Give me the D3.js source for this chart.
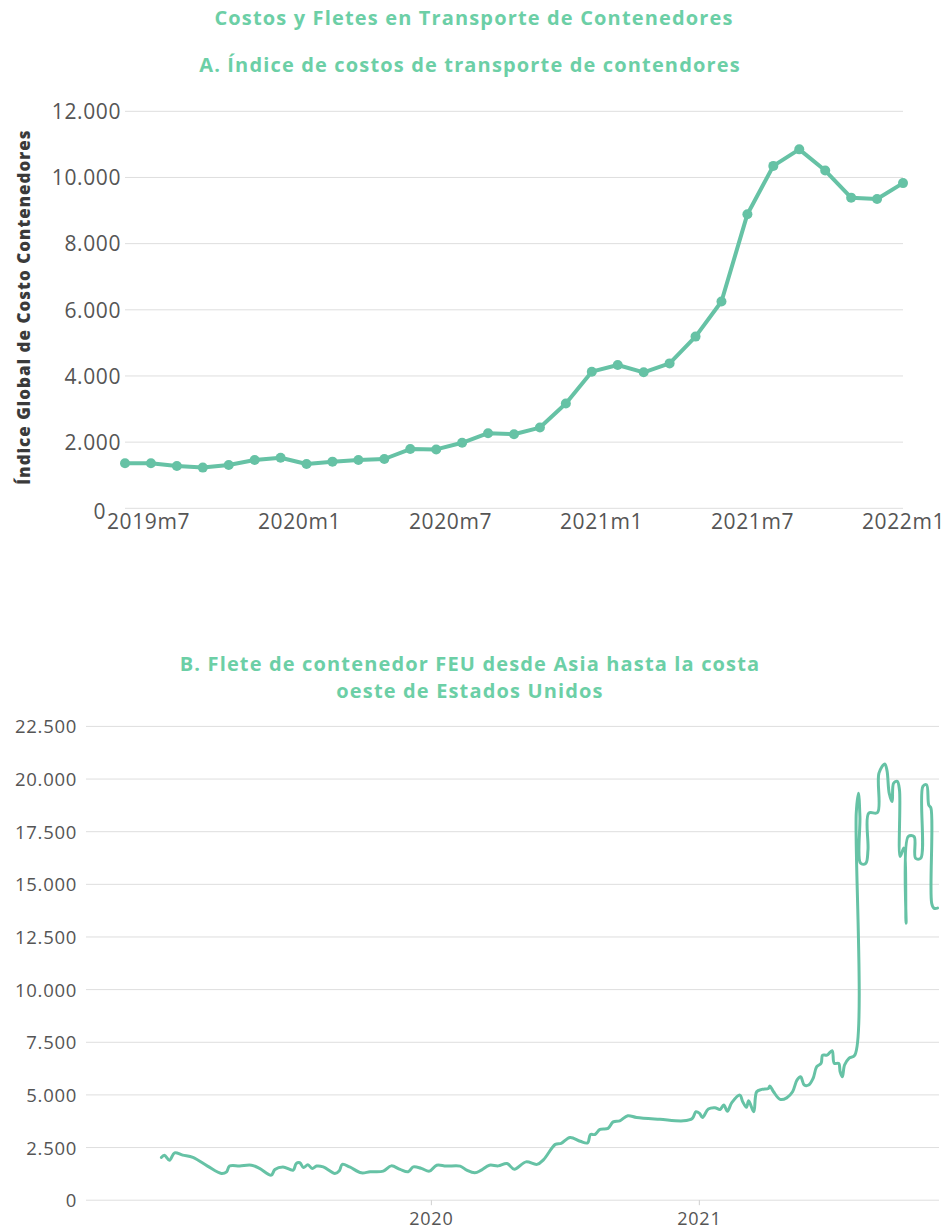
<!DOCTYPE html>
<html><head><meta charset="utf-8">
<script src="https://cdn.jsdelivr.net/npm/d3@7"></script>
<style>
body{margin:0;background:#fff}
svg{display:block}
text{font-family:"Open Sans",sans-serif}
</style>
</head><body>
<svg id="chart" width="948" height="1230"></svg>
<script>
// ---------- Data ----------
const mainTitle = "Costos y Fletes en Transporte de Contenedores";
const titleA = "A. Índice de costos de transporte de contendores";
const titleB = ["B. Flete de contenedor FEU desde Asia hasta la costa", "oeste de Estados Unidos"];
const yLabelA = "Índice Global de Costo Contenedores";

const monthsA = ["2019m7","2019m8","2019m9","2019m10","2019m11","2019m12","2020m1","2020m2","2020m3","2020m4","2020m5","2020m6","2020m7","2020m8","2020m9","2020m10","2020m11","2020m12","2021m1","2021m2","2021m3","2021m4","2021m5","2021m6","2021m7","2021m8","2021m9","2021m10","2021m11","2021m12","2022m1"];
const valuesA = [1360,1360,1280,1230,1310,1460,1530,1340,1410,1460,1490,1790,1780,1980,2270,2240,2440,3170,4130,4330,4110,4380,5190,6250,8890,10350,10850,10210,9390,9350,9830];
const xTickLabelsA = ["2019m7","2020m1","2020m7","2021m1","2021m7","2022m1"];
const yTicksA = [0,2000,4000,6000,8000,10000,12000];

const datesB = ["2018-12-29","2019-01-02","2019-01-09","2019-01-16","2019-01-27","2019-02-10","2019-03-02","2019-03-21","2019-03-28","2019-04-01","2019-04-15","2019-05-01","2019-05-12","2019-05-28","2019-06-02","2019-06-13","2019-06-27","2019-07-01","2019-07-06","2019-07-11","2019-07-17","2019-07-23","2019-07-29","2019-08-07","2019-08-23","2019-08-29","2019-09-02","2019-09-12","2019-09-28","2019-10-10","2019-10-28","2019-11-08","2019-11-20","2019-12-01","2019-12-08","2019-12-19","2019-12-30",
"2020-01-09","2020-01-22","2020-02-10","2020-02-19","2020-03-01","2020-03-10","2020-03-21","2020-04-02","2020-04-14","2020-04-24","2020-05-10","2020-05-25","2020-06-03","2020-06-19","2020-06-27","2020-07-09","2020-07-23","2020-08-02","2020-08-06","2020-08-12","2020-08-19","2020-08-30","2020-09-06","2020-09-15","2020-09-26","2020-10-08","2020-11-09","2020-12-11","2020-12-23","2020-12-28",
"2021-01-02","2021-01-06","2021-01-14","2021-01-23","2021-01-30","2021-02-04","2021-02-09","2021-02-15","2021-02-26","2021-03-02","2021-03-07","2021-03-10","2021-03-17","2021-03-21","2021-03-28","2021-04-06","2021-04-08","2021-04-13","2021-04-22","2021-05-01","2021-05-09","2021-05-15","2021-05-20","2021-05-25","2021-05-31","2021-06-06","2021-06-11","2021-06-17","2021-06-19","2021-06-25","2021-07-02","2021-07-05","2021-07-11","2021-07-13","2021-07-16","2021-07-19","2021-07-25","2021-08-02","2021-08-04","2021-08-07","2021-08-09","2021-08-10","2021-08-17","2021-08-20","2021-08-21","2021-09-02","2021-09-04","2021-09-12","2021-09-15","2021-09-18","2021-09-22","2021-09-24","2021-09-29","2021-10-02","2021-10-03","2021-10-08","2021-10-11","2021-10-14","2021-10-22","2021-10-24","2021-10-31","2021-11-03","2021-11-08","2021-11-11","2021-11-14","2021-11-15","2021-11-18","2021-11-23"];
const valuesB = [2030,2140,1900,2250,2140,2030,1620,1270,1350,1620,1630,1660,1510,1190,1460,1580,1430,1740,1780,1550,1680,1510,1620,1580,1270,1400,1700,1580,1300,1350,1380,1630,1460,1350,1580,1510,1380,
1660,1620,1620,1430,1300,1430,1660,1630,1740,1470,1820,1700,1930,2650,2700,2980,2800,2720,3120,3120,3360,3410,3720,3770,4010,3930,3840,3770,3880,4200,
4120,3930,4330,4390,4310,4520,4230,4630,4990,4670,4410,4720,4200,5150,5260,5310,5420,5150,4790,4860,5150,5700,5860,5470,5470,5780,6340,6500,6890,6890,7100,6500,6500,6100,5860,6420,6740,6890,18400,19330,18220,16000,16000,16640,18380,18410,20280,20720,20400,19330,18930,19800,19890,19490,16320,16720,13150,17270,17270,16240,16240,19650,19730,18770,18620,14100,13870,13870];
const yTicksB = [0,2500,5000,7500,10000,12500,15000,17500,20000,22500];
const xTicksB = ["2020-01-01","2021-01-01"];
const xDomainB = ["2018-09-17","2021-11-25"];

// ---------- Styles ----------
const GREEN = "#66c2a5", TITLE = "#6ccfa6", GRID = "#dedede", TICK = "#555";
const loc = d3.formatLocale({decimal:",", thousands:".", grouping:[3], currency:["",""]});
const fmt = loc.format(",");
const parse = d3.utcParse("%Y-%m-%d");

const svg = d3.select("#chart");

function title(x, y, t){
  svg.append("text").attr("x",x).attr("y",y).attr("text-anchor","middle").attr("dominant-baseline","central")
    .attr("font-size",20).attr("font-weight",700).attr("letter-spacing",1.15).attr("fill",TITLE).text(t);
}
title(474,17,mainTitle);
title(470,64,titleA);
titleB.forEach((t,i)=>title(470,663+i*27,t));

// ---------- Panel A ----------
const xA = d3.scalePoint().domain(monthsA).range([125,903]);
const xLabA = d3.scalePoint().domain(xTickLabelsA).range([148,903]);
const yA = d3.scaleLinear().domain([0,12000]).range([508.3,111.3]);
const gA = svg.append("g");

gA.append("g").selectAll("line").data(yTicksA).join("line")
  .attr("x1",125).attr("x2",903).attr("y1",d=>yA(d)).attr("y2",d=>yA(d))
  .attr("stroke",GRID).attr("stroke-width",1);

const yAxisA = gA.append("g").attr("transform","translate(125,0)")
  .call(d3.axisLeft(yA).tickValues(yTicksA).tickSize(0).tickPadding(4).tickFormat(fmt));
yAxisA.select(".domain").remove();
yAxisA.selectAll("text").attr("font-size",21).attr("fill",TICK).attr("font-family","Open Sans").attr("letter-spacing",0.6).attr("dy","0.35em")
  .attr("dx",d=>d===0?-15:0).attr("y",d=>d===0?3:0);

const xAxisA = gA.append("g").attr("transform","translate(0,517)")
  .call(d3.axisBottom(xLabA).tickSize(0).tickPadding(0));
xAxisA.select(".domain").remove();
xAxisA.selectAll("text").attr("font-size",21).attr("fill",TICK).attr("font-family","Open Sans").attr("letter-spacing",0.6).attr("dy","0.55em");

gA.append("text").attr("transform","translate(23,307) rotate(-90)").attr("text-anchor","middle")
  .attr("dominant-baseline","central").attr("font-size",17).attr("font-weight",800).attr("letter-spacing",1)
  .attr("fill","#3a3a3a").text(yLabelA);

const dataA = monthsA.map((m,i)=>({m, v:valuesA[i]}));
gA.append("path").datum(dataA)
  .attr("d", d3.line().x(d=>xA(d.m)).y(d=>yA(d.v)))
  .attr("fill","none").attr("stroke",GREEN).attr("stroke-width",4).attr("stroke-linejoin","round");
gA.append("g").selectAll("circle").data(dataA).join("circle")
  .attr("cx",d=>xA(d.m)).attr("cy",d=>yA(d.v)).attr("r",5).attr("fill",GREEN);

// ---------- Panel B ----------
const xB = d3.scaleUtc().domain(xDomainB.map(parse)).range([86,939]);
const yB = d3.scaleLinear().domain([0,22500]).range([1200.2,726.4]);
const gB = svg.append("g");

gB.append("g").selectAll("line").data(yTicksB).join("line")
  .attr("x1",86).attr("x2",939).attr("y1",d=>yB(d)).attr("y2",d=>yB(d))
  .attr("stroke",GRID).attr("stroke-width",1);

const yAxisB = gB.append("g").attr("transform","translate(86,0)")
  .call(d3.axisLeft(yB).tickValues(yTicksB).tickSize(0).tickPadding(9).tickFormat(fmt));
yAxisB.select(".domain").remove();
yAxisB.selectAll("text").attr("font-size",18.5).attr("fill",TICK).attr("font-family","Open Sans").attr("letter-spacing",0.7).attr("dy","0.35em");

const xAxisB = gB.append("g").attr("transform","translate(0,1200.2)")
  .call(d3.axisBottom(xB).tickValues(xTicksB.map(parse)).tickSize(5).tickPadding(7).tickFormat(d3.utcFormat("%Y")));
xAxisB.select(".domain").remove();
xAxisB.selectAll("line").attr("stroke","#cfcfcf");
xAxisB.selectAll("text").attr("font-size",18).attr("fill",TICK).attr("font-family","Open Sans").attr("letter-spacing",0.8);

const dataB = datesB.map((d,i)=>({d:parse(d), v:valuesB[i]}));
gB.append("path").datum(dataB)
  .attr("d", d3.line().x(d=>xB(d.d)).y(d=>yB(d.v)).curve(d3.curveCatmullRom.alpha(0.5)))
  .attr("fill","none").attr("stroke",GREEN).attr("stroke-width",3).attr("stroke-linejoin","round").attr("stroke-linecap","round");
</script>
</body></html>
